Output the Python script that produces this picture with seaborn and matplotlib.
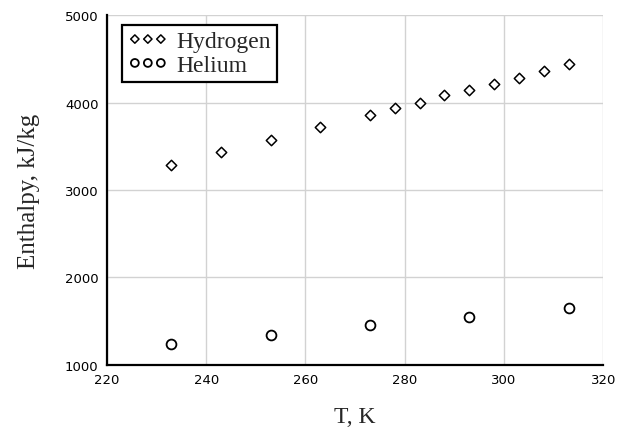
import pandas as pd
import matplotlib
matplotlib.use('Agg')
import matplotlib.pyplot as plt
import seaborn as sns

# values
h2_temp = [233, 243, 253, 263, 273, 278, 283, 288, 293, 298, 303, 308, 313]
h2_enthalpy = [3290, 3430, 3575, 3725, 3855, 3935, 4000, 4085, 4145, 4215, 4285, 4360, 4440]
he_temp = [233, 253, 273, 293, 313]
he_enthalpy = [1235, 1340, 1450, 1550, 1655]

x_ticks = [220, 240, 260, 280, 300, 320]
y_ticks = [1000, 2000, 3000, 4000, 5000]

sns.set_style('white')
plt.rcParams['font.family'] = ['DejaVu Sans']

h2 = pd.DataFrame({'T': h2_temp, 'H': h2_enthalpy})
he = pd.DataFrame({'T': he_temp, 'H': he_enthalpy})

fig = plt.figure(figsize=(6.33, 4.35), dpi=100)
ax = fig.add_axes([0.169, 0.159, 0.784, 0.804])

sns.scatterplot(data=h2, x='T', y='H', marker='D', s=28, facecolor='white',
                edgecolor='black', linewidth=1.1, label='Hydrogen', ax=ax, zorder=3)
sns.scatterplot(data=he, x='T', y='H', marker='o', s=50, facecolor='white',
                edgecolor='black', linewidth=1.3, label='Helium', ax=ax, zorder=3)

ax.set_xlim(220, 320)
ax.set_ylim(1000, 5000)
ax.set_xticks(x_ticks)
ax.set_yticks(y_ticks)
ax.grid(True, color='#d2d2d2', linewidth=1.0)
ax.set_axisbelow(True)

for side in ['top', 'right']:
    ax.spines[side].set_visible(False)
for side in ['left', 'bottom']:
    ax.spines[side].set_color('black')
    ax.spines[side].set_linewidth(1.6)

ax.tick_params(axis='both', direction='inout', length=8, width=1.4,
               colors='black', labelsize=9.5, pad=2)

ax.set_xlabel('T, K', family='Liberation Serif', fontsize=17, labelpad=14)
ax.set_ylabel('Enthalpy, kJ/kg', family='Liberation Serif', fontsize=18, labelpad=18)

leg = ax.legend(loc='upper left', bbox_to_anchor=(0.03, 0.972), scatterpoints=3,
                scatteryoffsets=[0.5], markerscale=0.8,
                frameon=True, fancybox=False, framealpha=1, borderaxespad=0,
                prop={'family': 'Liberation Serif', 'size': 17},
                handletextpad=0.35, borderpad=0.25, labelspacing=0.1,
                handlelength=1.7)
leg.get_frame().set_edgecolor('black')
leg.get_frame().set_linewidth(1.6)

plt.savefig('out.png', dpi=100)
